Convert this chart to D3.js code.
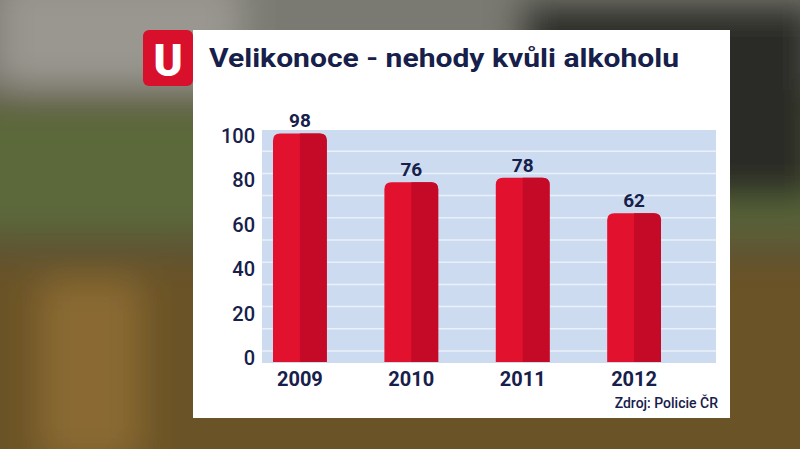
<!DOCTYPE html><html><head><meta charset="utf-8">
<script src="https://cdn.jsdelivr.net/npm/d3@7"></script>
<style>body{margin:0;background:#555}svg{display:block}</style></head><body>
<svg id="c" width="800" height="449"></svg>
<script>
const categories=["2009","2010","2011","2012"];
const values=[98,76,78,62];
const yTicks=[0,20,40,60,80,100];
const title="Velikonoce - nehody kvůli alkoholu";
const source="Zdroj: Policie ČR";

const svg=d3.select("#c");
const defs=svg.append("defs");
defs.append("filter").attr("id","bl").append("feGaussianBlur").attr("stdDeviation",18);
const bg=svg.append("g").attr("filter","url(#bl)");
bg.append("rect").attr("x",-50).attr("y",-50).attr("width",900).attr("height",550).attr("fill","#5a5236");
bg.append("rect").attr("x",-50).attr("y",-50).attr("width",900).attr("height",140).attr("fill","#7a7a72");
bg.append("rect").attr("x",-50).attr("y",110).attr("width",900).attr("height",120).attr("fill","#5c6a3a");
bg.append("rect").attr("x",-50).attr("y",260).attr("width",900).attr("height",250).attr("fill","#6a5228");
bg.append("rect").attr("x",0).attr("y",-20).attr("width",240).attr("height",110).attr("fill","#9a9790");
bg.append("rect").attr("x",520).attr("y",0).attr("width",300).attr("height",200).attr("fill","#2c2a26");
bg.append("rect").attr("x",40).attr("y",280).attr("width",100).attr("height",180).attr("fill","#8a6a30");

const font="Roboto, 'Open Sans', sans-serif", navy="#16204a";
svg.append("rect").attr("x",193).attr("y",30).attr("width",537).attr("height",388).attr("fill","#fff");
svg.append("rect").attr("x",143).attr("y",30).attr("width",50).attr("height",56).attr("rx",6).attr("fill","#d8102c");
svg.append("text").attr("x",168).attr("y",76).attr("text-anchor","middle").attr("font-family",font).attr("font-weight",900).attr("font-size",44).attr("fill","#fff").text("U");
svg.append("text").attr("x",209).attr("y",67).attr("font-family",font).attr("font-weight",700).attr("font-size",26).attr("fill",navy).attr("textLength",470).attr("lengthAdjust","spacingAndGlyphs").text(title);

const y=d3.scaleLinear().domain([0,100]).range([351,129]);
const x=d3.scaleBand().domain(categories).range([273,661]).paddingInner(0.517).paddingOuter(0);
svg.append("rect").attr("x",262).attr("y",130).attr("width",454).attr("height",233).attr("fill","#cddbf0");
svg.append("g").selectAll("line").data(d3.range(0,91,10)).join("line")
 .attr("x1",262).attr("x2",716).attr("y1",d=>y(d)).attr("y2",d=>y(d)).attr("stroke","#eaf0f9").attr("stroke-width",1.5);
svg.append("g").selectAll("text").data(yTicks).join("text").attr("x",255).attr("y",d=>y(d)+14)
 .attr("text-anchor","end").attr("font-family",font).attr("font-weight",500).attr("font-size",20).attr("fill",navy).text(d=>d);
const r=7;
const bars=svg.append("g").selectAll("g").data(values).join("g");
bars.append("path").attr("fill","#e2122f").attr("d",(d,i)=>{const x0=x(categories[i]),w=x.bandwidth(),t=y(d),b=y(0)+11;
 return `M${x0},${b}V${t+r}Q${x0},${t} ${x0+r},${t}H${x0+w-r}Q${x0+w},${t} ${x0+w},${t+r}V${b}Z`;});
bars.append("path").attr("fill","#c40a27").attr("d",(d,i)=>{const x0=x(categories[i])+x.bandwidth()/2,w=x.bandwidth()/2,t=y(d),b=y(0)+11;
 return `M${x0},${b}V${t}H${x0+w-r}Q${x0+w},${t} ${x0+w},${t+r}V${b}Z`;});
bars.append("text").attr("x",(d,i)=>x(categories[i])+x.bandwidth()/2).attr("y",d=>y(d)-6).attr("text-anchor","middle")
 .attr("font-family",font).attr("font-weight",700).attr("font-size",19).attr("fill",navy).text(d=>d);
svg.append("g").selectAll("text").data(categories).join("text").attr("x",d=>x(d)+x.bandwidth()/2).attr("y",386)
 .attr("text-anchor","middle").attr("font-family",font).attr("font-weight",700).attr("font-size",20).attr("fill",navy).text(d=>d);
svg.append("text").attr("x",718).attr("y",408).attr("text-anchor","end").attr("font-family",font).attr("font-weight",500).attr("font-size",14).attr("fill",navy).text(source);
</script></body></html>
